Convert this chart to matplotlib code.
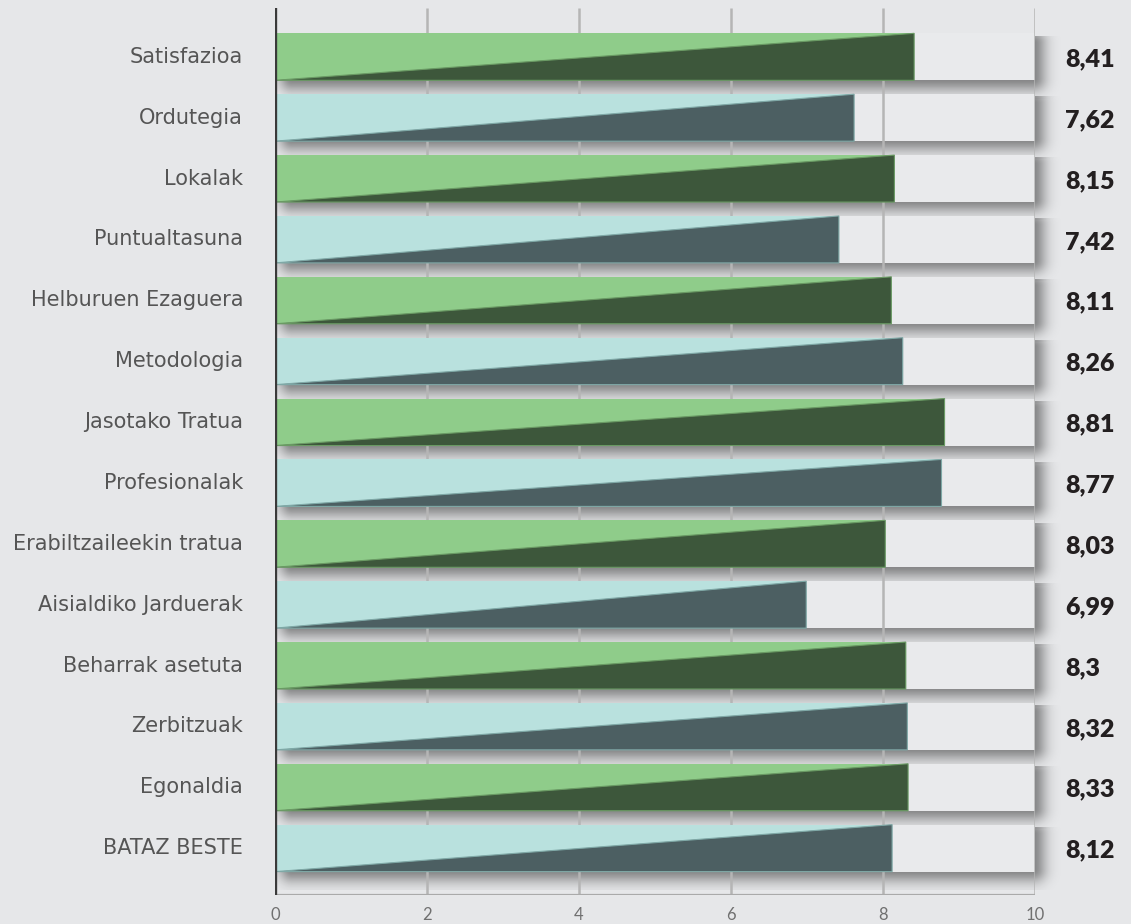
import matplotlib

matplotlib.use("Agg")
import matplotlib.pyplot as plt
import numpy as np

categories = [
    "Satisfazioa", "Ordutegia", "Lokalak", "Puntualtasuna", "Helburuen Ezaguera",
    "Metodologia", "Jasotako Tratua", "Profesionalak", "Erabiltzaileekin tratua",
    "Aisialdiko Jarduerak", "Beharrak asetuta", "Zerbitzuak", "Egonaldia", "BATAZ BESTE",
]
scores = [8.41, 7.62, 8.15, 7.42, 8.11, 8.26, 8.81, 8.77, 8.03, 6.99, 8.3, 8.32, 8.33, 8.12]
score_labels = ["8,41", "7,62", "8,15", "7,42", "8,11", "8,26", "8,81", "8,77",
                "8,03", "6,99", "8,3", "8,32", "8,33", "8,12"]
x_ticks = [0, 2, 4, 6, 8, 10]
x_max = 10

BG = "#e6e7e9"
TRACK = "#e9eaec"
LIGHT = ["#8fcc8a", "#b9e1de"]
DARK = ["#3d573b", "#4c5f62"]
EDGE = ["#6a9a64", "#7fa8a6"]

PX, PY = 76.0, 60.86   # pixels per data unit (x, y)
BAR_H = 0.772

fig = plt.figure(figsize=(11.31, 9.24), dpi=100, facecolor=BG)
ax = fig.add_axes([275 / 1131, 1 - 895 / 924, 760 / 1131, 887 / 924])
ax.set_facecolor(BG)


def draw_shadow(yc):
    # soft drop shadow below and right of the grey track
    x0, x1 = 0.02, x_max + 0.36
    y0, y1 = yc - BAR_H / 2 + 0.05, yc + BAR_H / 2 + 0.3
    xs = np.linspace(x0, x1, 700)
    ys = np.linspace(y0, y1, 140)
    X, Y = np.meshgrid(xs, ys)
    rx0, rx1 = 16 / PX, x_max - 2 / PX
    ry0, ry1 = yc - BAR_H / 2 + 10 / PY, yc + BAR_H / 2 - 2 / PY
    dx = np.maximum(np.maximum(rx0 - X, X - rx1), 0) * PX
    dy = np.maximum(np.maximum(ry0 - Y, Y - ry1), 0) * PY
    d = np.hypot(dx, dy)
    rgba = np.zeros((len(ys), len(xs), 4))
    rgba[..., 3] = 0.42 * np.exp(-(d / 13.0) ** 2)
    ax.imshow(rgba, extent=(x0, x1, y1, y0), aspect="auto", zorder=1,
              interpolation="bilinear", clip_on=False)


for i, (cat, val, lab) in enumerate(zip(categories, scores, score_labels)):
    k = i % 2
    top, bot = i - BAR_H / 2, i + BAR_H / 2
    draw_shadow(i)
    ax.barh(i, x_max, height=BAR_H, color=TRACK, zorder=2)
    ax.barh(i, val, height=BAR_H, color=LIGHT[k], zorder=4)
    ax.fill([0, val, val], [bot, top, bot], color=DARK[k], zorder=5,
            edgecolor=EDGE[k], linewidth=0.8)
    ax.text(-0.42, i, cat, ha="right", va="center", fontsize=15,
            color="#555555", family="DejaVu Sans", clip_on=False)
    ax.text(10.4, i + 0.04, lab, ha="left", va="center", fontsize=18,
            fontweight="heavy", color="#231f20", family="Lato", clip_on=False)

ax.set_xlim(0, x_max)
ax.set_ylim(13.77, -0.802)
ax.vlines(x_ticks[1:], -0.802, 13.77, color="#b5b5b5", linewidth=1.8, zorder=3)
ax.axvline(0, color="#3a3a3a", linewidth=2.4, zorder=6)
ax.axhline(13.77, color="#aaaaaa", linewidth=1.6, zorder=3)

for s in ax.spines.values():
    s.set_visible(False)
ax.set_yticks([])
ax.set_xticks(x_ticks)
ax.set_xticklabels([str(t) for t in x_ticks], fontsize=12, color="#707070",
                   family="Lato")
ax.tick_params(axis="x", length=0, pad=9)

fig.savefig("out.png", dpi=100, facecolor=BG)
